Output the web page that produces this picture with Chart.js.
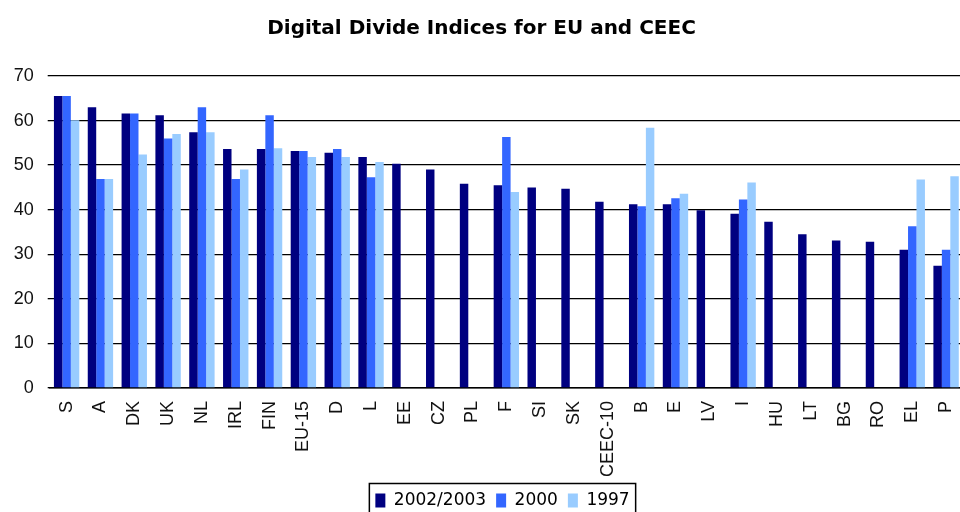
<!DOCTYPE html>
<html lang="en">
<head>
<meta charset="UTF-8">
<title>Digital Divide Indices for EU and CEEC</title>
<script src="https://cdn.jsdelivr.net/npm/chart.js"></script>
<style>
  html, body { margin: 0; padding: 0; background: #fff; overflow: hidden; }
  #wrap { width: 960px; height: 512px; overflow: hidden; }
</style>
</head>
<body>
<div id="wrap"><canvas id="myChart" width="963" height="512"></canvas></div>
<script>
// country codes along the x axis
var countries = ['S', 'A', 'DK', 'UK', 'NL', 'IRL', 'FIN', 'EU-15', 'D', 'L', 'EE', 'CZ', 'PL', 'F',
                 'SI', 'SK', 'CEEC-10', 'B', 'E', 'LV', 'I', 'HU', 'LT', 'BG', 'RO', 'EL', 'P'];

// index values per year (null = no bar)
var idx2002 = [65.5, 63.0, 61.6, 61.2, 57.4, 53.6, 53.6, 53.2, 52.8, 51.8, 50.3, 49.0, 45.8, 45.5,
               45.0, 44.7, 41.8, 41.2, 41.2, 39.9, 39.1, 37.3, 34.5, 33.1, 32.8, 31.0, 27.4];
var idx2000 = [65.5, 46.9, 61.6, 56.0, 63.0, 46.9, 61.2, 53.2, 53.6, 47.3, null, null, null, 56.3,
               null, null, null, 40.8, 42.6, null, 42.3, null, null, null, null, 36.3, 31.0];
var idx1997 = [60.1, 46.9, 52.4, 57.0, 57.4, 49.0, 53.8, 51.8, 51.8, 50.7, null, null, null, 44.0,
               null, null, null, 58.4, 43.6, null, 46.1, null, null, null, null, 46.8, 47.5];

var yTicks = [0, 10, 20, 30, 40, 50, 60, 70];

var legendFont = { family: '"DejaVu Sans", sans-serif', size: 17 };

// nudge the legend towards the plot centre and frame it
var legendFrame = {
    id: 'legendFrame',
    afterLayout: function(chart) {
        var lg = chart.legend;
        lg.left += 21; lg.right += 21;
        lg.top += 7; lg.bottom += 7;
        // let the long rotated labels run into the legend band without being clipped
        chart.scales.x.bottom += 14;
        chart.scales.x.height += 14;
    },
    afterDraw: function(chart) {
        var lg = chart.legend, ctx = chart.ctx, lab = lg.options.labels;
        ctx.save();
        ctx.font = legendFont.size + 'px ' + legendFont.family;
        var total = 0;
        lg.legendItems.forEach(function(it, i) {
            total += lab.boxWidth + legendFont.size / 2 + ctx.measureText(it.text).width;
            if (i) total += lab.padding;
        });
        var cx = (lg.left + lg.right) / 2;
        var cy = lg.top + lab.padding + legendFont.size / 2;
        ctx.strokeStyle = '#000';
        ctx.lineWidth = 1.5;
        ctx.strokeRect(cx - total / 2 - 6, cy - 17, total + 12, 36);
        ctx.restore();
    }
};

var ctx = document.getElementById('myChart').getContext('2d');
var myChart = new Chart(ctx, {
    type: 'bar',
    data: {
        labels: countries,
        datasets: [
            { label: '2002/2003', data: idx2002, backgroundColor: '#000080' },
            { label: '2000', data: idx2000, backgroundColor: '#3366FF' },
            { label: '1997', data: idx1997, backgroundColor: '#99CCFF' }
        ]
    },
    options: {
        responsive: false,
        animation: false,
        datasets: {
            bar: { categoryPercentage: 0.75, barPercentage: 1.0, borderWidth: 0 }
        },
        plugins: {
            title: {
                display: true,
                text: 'Digital Divide Indices for EU and CEEC',
                color: '#000',
                font: { family: '"DejaVu Sans", sans-serif', size: 20, weight: 'bold' },
                padding: { top: 17, bottom: 35 }
            },
            legend: {
                position: 'bottom',
                labels: {
                    color: '#000',
                    font: legendFont,
                    boxWidth: 10,
                    boxHeight: 14,
                    padding: 10
                }
            },
            tooltip: { enabled: false }
        },
        scales: {
            x: {
                grid: { display: false },
                border: { display: true, color: '#000', width: 1.5 },
                ticks: {
                    color: '#111',
                    font: { family: '"Liberation Sans", Arial, sans-serif', size: 18 },
                    minRotation: 90,
                    maxRotation: 90,
                    autoSkip: false,
                    padding: 5
                },
                afterFit: function(s) {
                    s.height = s.chart.height - 388 - s.chart.legend.height;
                    s.paddingLeft = 0;
                    s.paddingRight = 0;
                }
            },
            y: {
                min: 0,
                max: 70,
                afterBuildTicks: function(s) {
                    s.ticks = yTicks.map(function(v) { return { value: v }; });
                },
                grid: { color: '#000', lineWidth: 1.3, tickLength: 2 },
                border: { display: false },
                ticks: {
                    color: '#111',
                    font: { family: '"Liberation Sans", Arial, sans-serif', size: 18 },
                    padding: 14
                },
                afterFit: function(s) { s.width = 49.7; }
            }
        }
    },
    plugins: [legendFrame]
});
</script>
</body>
</html>
